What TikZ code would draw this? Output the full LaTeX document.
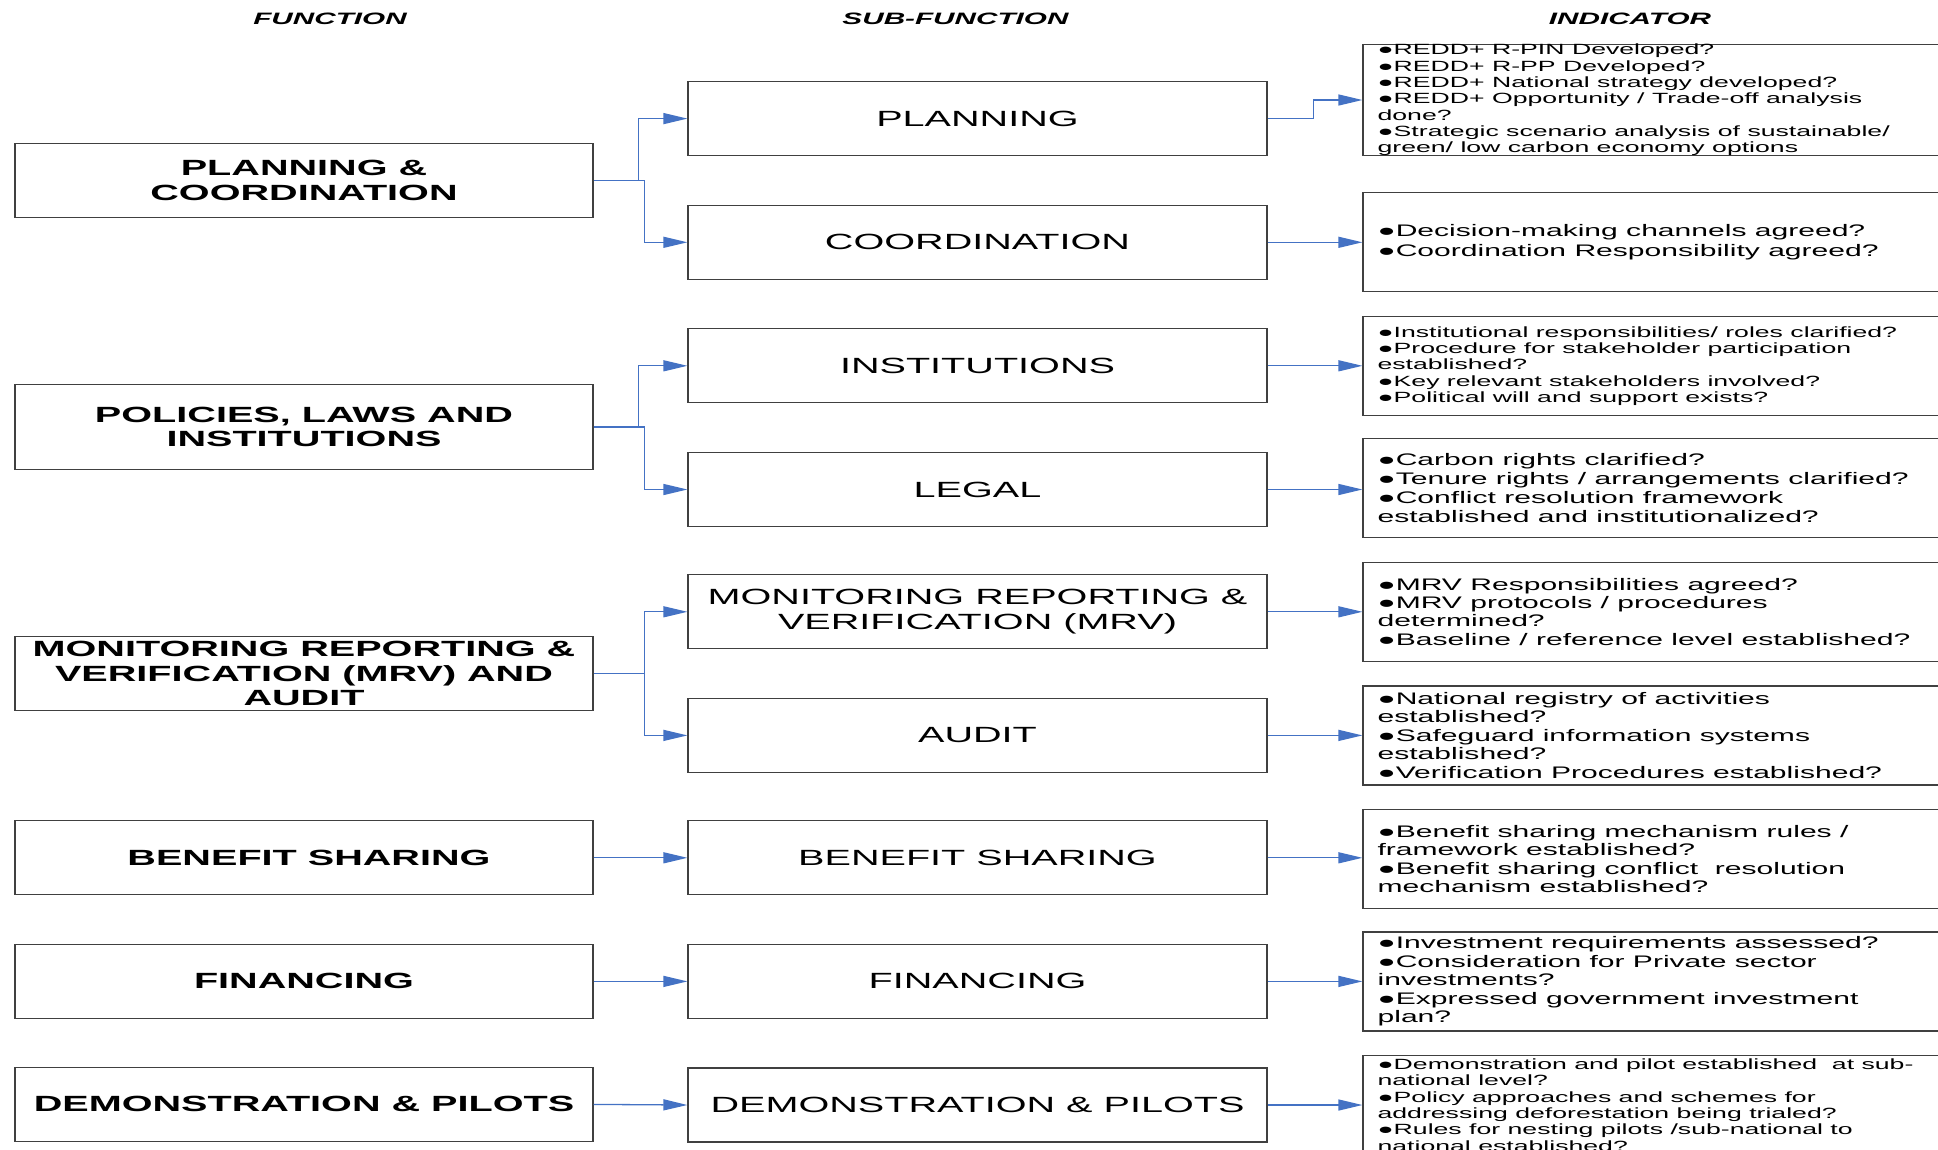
\documentclass[tikz,border=0pt]{standalone}
\usepackage{fontspec}
\setmainfont{Liberation Sans}
\newfontfamily\wf[FakeStretch=1.8]{Liberation Sans}
\usetikzlibrary{arrows.meta,calc}
\definecolor{boxgray}{HTML}{404040}
\definecolor{connblue}{HTML}{4472C4}
\tikzset{
  funcbox/.style={draw=boxgray, line width=1.2pt, minimum width=578pt, minimum height=74pt, inner sep=0pt, align=center,
    font=\wf\bfseries\fontsize{22}{24.5}\selectfont},
  subbox/.style={draw=boxgray, line width=1.2pt, minimum width=579pt, minimum height=74pt, inner sep=0pt, align=center,
    font=\wf\fontsize{22}{24.5}\selectfont},
  indbox/.style={draw=boxgray, line width=1.2pt, minimum width=620pt, minimum height=99pt, inner sep=0pt},
  indtext/.style={anchor=west, inner sep=0pt, align=left, font=\wf\fontsize{16.7}{18.4}\selectfont},
  smalltext/.style={font=\wf\fontsize{14.8}{16.3}\selectfont},
  header/.style={inner sep=0pt, font=\wf\bfseries\itshape\fontsize{16.5}{18}\selectfont},
  conn/.style={draw=connblue, line width=1.3pt, -{Triangle[length=24pt,width=11pt]}}
}
\begin{document}
\begin{tikzpicture}[x=1pt,y=-1pt]
\clip (0,0) rectangle (1938,1149);
\fill[white] (0,0) rectangle (1938,1149);
% headers
\node[header] (hf) at (330,19) {FUNCTION};
\node[header] (hs) at (955.5,19) {SUB-FUNCTION};
\node[header] (hi) at (1630,19) {INDICATOR};
% function boxes
\node[funcbox] (pc) at (304,180.5) {PLANNING \&\\COORDINATION};
\node[funcbox, minimum height=85pt] (pli) at (304,427) {POLICIES, LAWS AND\\INSTITUTIONS};
\node[funcbox] (mrva) at (304,673.6) {MONITORING REPORTING \&\\VERIFICATION (MRV) AND\\AUDIT};
\node[funcbox] (bs) at (304,857.8) {\hspace*{10pt}BENEFIT SHARING};
\node[funcbox] (fin) at (304,981.4) {FINANCING};
\node[funcbox] (dp) at (304,1104.4) {DEMONSTRATION \& PILOTS};
% sub-function boxes
\node[subbox] (plan) at (977.5,118.6) {PLANNING};
\node[subbox] (coord) at (977.5,242.3) {COORDINATION};
\node[subbox] (inst) at (977.5,365.8) {INSTITUTIONS};
\node[subbox] (legal) at (977.5,489.5) {LEGAL};
\node[subbox] (mrv) at (977.5,611.8) {MONITORING REPORTING \&\\VERIFICATION (MRV)};
\node[subbox] (audit) at (977.5,735.4) {AUDIT};
\node[subbox] (bss) at (977.5,857.8) {BENEFIT SHARING};
\node[subbox] (fins) at (977.5,981.4) {FINANCING};
\node[subbox] (dps) at (977.5,1105) {DEMONSTRATION \& PILOTS};
% indicator boxes
\node[indbox, minimum height=111pt] (i1) at (1673,100) {};
\node[indbox] (i2) at (1673,242.3) {};
\node[indbox] (i3) at (1673,365.9) {};
\node[indbox] (i4) at (1673,488.2) {};
\node[indbox] (i5) at (1673,611.8) {};
\node[indbox] (i6) at (1673,735.4) {};
\node[indbox] (i7) at (1673,859) {};
\node[indbox] (i8) at (1673,981.4) {};
\node[indbox] (i9) at (1673,1105) {};
% indicator texts
\node[indtext, smalltext] (t1) at ([xshift=15pt]i1.west) {●REDD+ R-PIN Developed?\\●REDD+ R-PP Developed?\\●REDD+ National strategy developed?\\●REDD+ Opportunity / Trade-off analysis\\done?\\●Strategic scenario analysis of sustainable/\\green/ low carbon economy options};
\node[indtext, font=\wf\fontsize{16.7}{19.8}\selectfont] (t2) at ([xshift=15pt]i2.west) {●Decision-making channels agreed?\\●Coordination Responsibility agreed?};
\node[indtext, smalltext] (t3) at ([xshift=15pt]i3.west) {●Institutional responsibilities/ roles clarified?\\●Procedure for stakeholder participation\\established?\\●Key relevant stakeholders involved?\\●Political will and support exists?};
\node[indtext, font=\wf\fontsize{16.7}{18.9}\selectfont] (t4) at ([xshift=15pt]i4.west) {●Carbon rights clarified?\\●Tenure rights / arrangements clarified?\\●Conflict resolution framework\\established and institutionalized?};
\node[indtext] (t5) at ([xshift=15pt]i5.west) {●MRV Responsibilities agreed?\\●MRV protocols / procedures\\determined?\\●Baseline / reference level established?};
\node[indtext] (t6) at ([xshift=15pt]i6.west) {●National registry of activities\\established?\\●Safeguard information systems\\established?\\●Verification Procedures established?};
\node[indtext] (t7) at ([xshift=15pt]i7.west) {●Benefit sharing mechanism rules /\\framework established?\\●Benefit sharing conflict\ \ resolution\\mechanism established?};
\node[indtext] (t8) at ([xshift=15pt]i8.west) {●Investment requirements assessed?\\●Consideration for Private sector\\investments?\\●Expressed government investment\\plan?};
\node[indtext, smalltext] (t9) at ([xshift=15pt]i9.west) {●Demonstration and pilot established\ \ at sub-\\national level?\\●Policy approaches and schemes for\\addressing deforestation being trialed?\\●Rules for nesting pilots /sub-national to\\national established?};
% connectors function -> sub-function
\draw[conn] (pc.east) -- ++(45,0) |- (plan.west);
\draw[conn] (pc.east) -- ++(51,0) |- (coord.west);
\draw[conn] (pli.east) -- ++(45,0) |- (inst.west);
\draw[conn] (pli.east) -- ++(51,0) |- (legal.west);
\draw[conn] (mrva.east) -- ++(51,0) |- (mrv.west);
\draw[conn] (mrva.east) -- ++(51,0) |- (audit.west);
\draw[conn] (bs.east) -- (bss.west);
\draw[conn] (fin.east) -- (fins.west);
\draw[conn] (dp.east) -- (dps.west);
% connectors sub-function -> indicator
\draw[conn] (plan.east) -- ++(45.6,0) |- (i1.west);
\draw[conn] (coord.east) -- (i2.west);
\draw[conn] (inst.east) -- (inst.east -| i3.west);
\draw[conn] (legal.east) -- (legal.east -| i4.west);
\draw[conn] (mrv.east) -- (i5.west);
\draw[conn] (audit.east) -- (i6.west);
\draw[conn] (bss.east) -- (bss.east -| i7.west);
\draw[conn] (fins.east) -- (i8.west);
\draw[conn] (dps.east) -- (i9.west);
\end{tikzpicture}
\end{document}
